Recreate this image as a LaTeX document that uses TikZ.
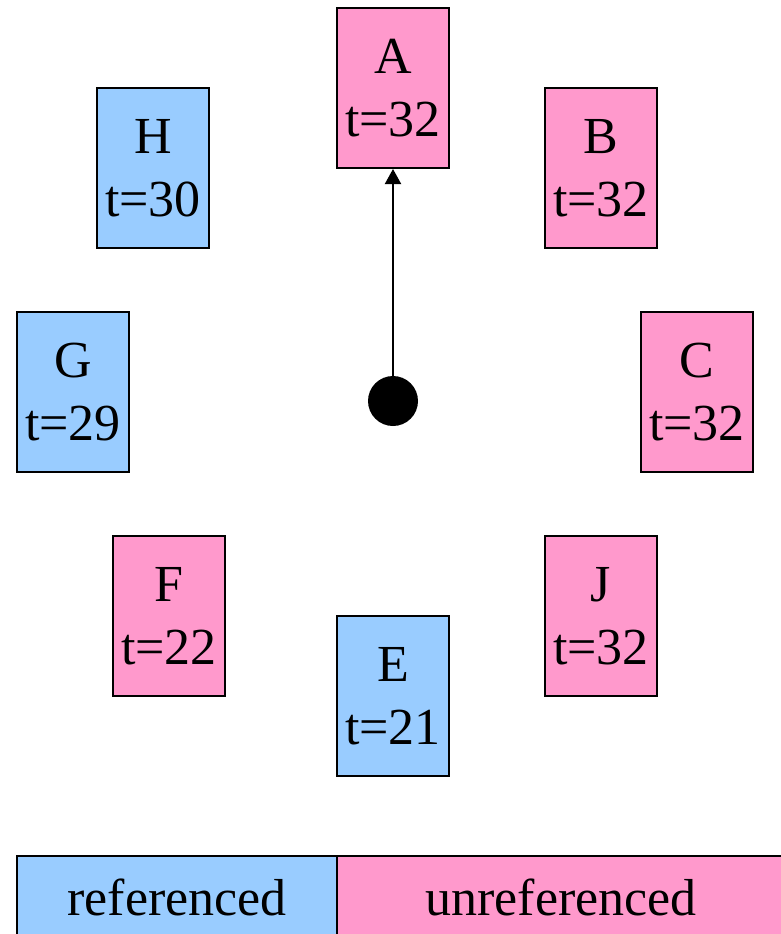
\documentclass[tikz,border=0pt]{standalone}
\usepackage{fontspec}
\setmainfont{Liberation Serif}
\usetikzlibrary{arrows.meta}
\definecolor{refblue}{HTML}{99CCFF}
\definecolor{unrefpink}{HTML}{FF99CC}
\tikzset{
  objbox/.style={draw, line width=1pt, minimum width=56pt, minimum height=80pt,
                 inner sep=0pt, align=center, font=\fontsize{26}{31.5}\selectfont},
  refobj/.style={objbox, fill=refblue},
  unrefobj/.style={objbox, fill=unrefpink},
  legendtext/.style={anchor=base, font=\fontsize{26}{31.5}\selectfont}
}
\begin{document}
\begin{tikzpicture}[x=0.5pt, y=-0.5pt]
      \useasboundingbox (0,0) rectangle (781,934);
      % objects around the root
      \node[unrefobj] (A) at (393, 88) {A\\t=32};
      \node[unrefobj] (B) at (601,168) {B\\t=32};
      \node[unrefobj] (C) at (697,392) {C\\t=32};
      \node[unrefobj] (J) at (601,616) {J\\t=32};
      \node[refobj]   (E) at (393,696) {E\\t=21};
      \node[unrefobj] (F) at (169,616) {F\\t=22};
      \node[refobj]   (G) at ( 73,392) {G\\t=29};
      \node[refobj]   (H) at (153,168) {H\\t=30};

      \node[circle, fill=black, minimum size=25pt, inner sep=0pt] (root) at (393,401) {};
      \draw[-{Triangle[length=7.5pt, width=8pt]}, line width=1pt] (root) -- (A);

      % legend
      \draw[line width=1pt, fill=refblue] (17,856) rectangle (337,980);
      \draw[line width=1pt, fill=unrefpink] (337,856) rectangle (800,980);
      \node[legendtext] (legref) at (177,915) {referenced};
      \node[legendtext] (legunref) at (561,915) {unreferenced};
    \end{tikzpicture}
\end{document}
